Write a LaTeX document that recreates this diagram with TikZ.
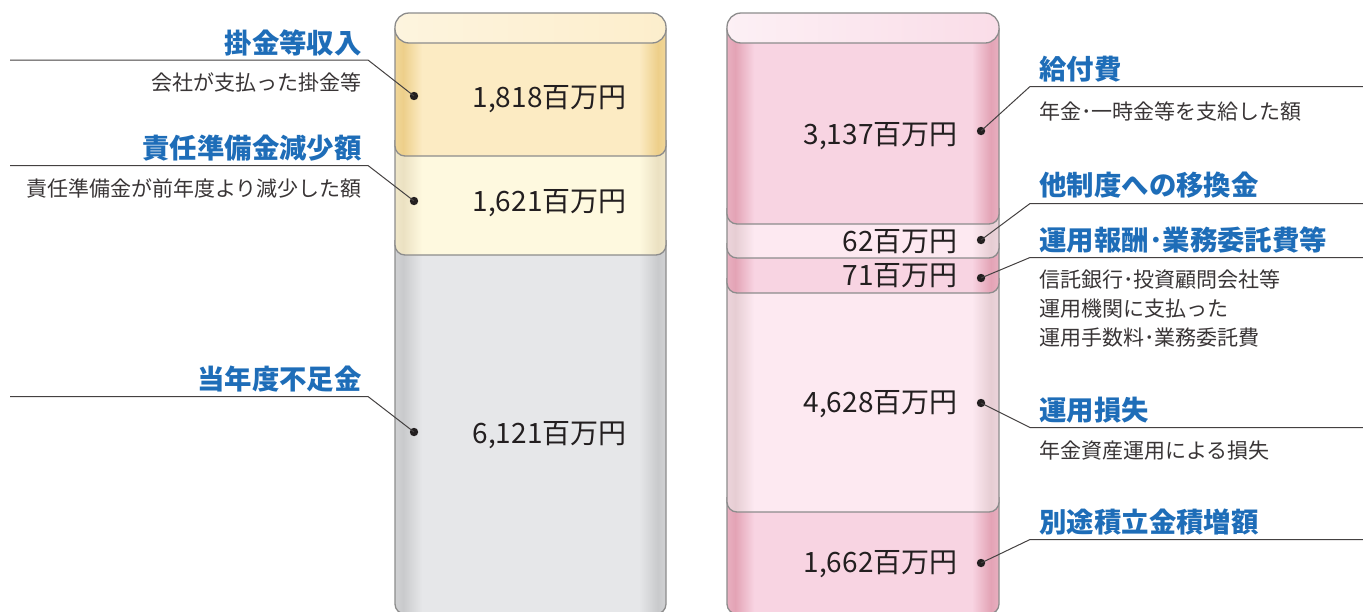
\documentclass[tikz,border=0pt]{standalone}
\usepackage{fontspec}
\setmainfont{Noto Sans CJK JP}

\definecolor{ink}{HTML}{231F20}
\definecolor{rimgray}{HTML}{8C8C8C}
\definecolor{labelblue}{HTML}{1E6DB8}
\definecolor{goldmid}{HTML}{FCEBC3}
\definecolor{goldedge}{HTML}{EDCF8A}
\definecolor{creammid}{HTML}{FEF9DF}
\definecolor{creamedge}{HTML}{EBE1C2}
\definecolor{graymid}{HTML}{E6E7E9}
\definecolor{grayedge}{HTML}{C9CACC}
\definecolor{pinkmid}{HTML}{F8D4E2}
\definecolor{pinkedge}{HTML}{E3A3B5}
\definecolor{palemid}{HTML}{FDE9F1}
\definecolor{paleedge}{HTML}{E6CDD3}

% edge bands: the path covers 25bp..75bp
\pgfdeclarehorizontalshading{goldband}{100bp}{color(0bp)=(goldedge); color(25bp)=(goldedge!75!goldmid); color(26.5bp)=(goldedge); color(30bp)=(goldmid); color(70bp)=(goldmid); color(73.5bp)=(goldedge); color(75bp)=(goldedge!75!goldmid); color(100bp)=(goldedge)}
\pgfdeclarehorizontalshading{creamband}{100bp}{color(0bp)=(creamedge); color(25bp)=(creamedge!75!creammid); color(26.5bp)=(creamedge); color(30bp)=(creammid); color(70bp)=(creammid); color(73.5bp)=(creamedge); color(75bp)=(creamedge!75!creammid); color(100bp)=(creamedge)}
\pgfdeclarehorizontalshading{grayband}{100bp}{color(0bp)=(grayedge); color(25bp)=(grayedge!75!graymid); color(26.5bp)=(grayedge); color(30bp)=(graymid); color(70bp)=(graymid); color(73.5bp)=(grayedge); color(75bp)=(grayedge!75!graymid); color(100bp)=(grayedge)}
\pgfdeclarehorizontalshading{pinkband}{100bp}{color(0bp)=(pinkedge); color(25bp)=(pinkedge!75!pinkmid); color(26.5bp)=(pinkedge); color(30bp)=(pinkmid); color(70bp)=(pinkmid); color(73.5bp)=(pinkedge); color(75bp)=(pinkedge!75!pinkmid); color(100bp)=(pinkedge)}
\pgfdeclarehorizontalshading{paleband}{100bp}{color(0bp)=(paleedge); color(25bp)=(paleedge!75!palemid); color(26.5bp)=(paleedge); color(30bp)=(palemid); color(70bp)=(palemid); color(73.5bp)=(paleedge); color(75bp)=(paleedge!75!palemid); color(100bp)=(paleedge)}

\begin{document}
\begin{tikzpicture}[
    x=0.5pt, y=-0.5pt,
    segment/.style={draw=rimgray, line width=0.65pt, rounded corners=5pt, shade, shading=#1},
    lid/.style={draw=rimgray, line width=0.65pt, rounded corners=7pt},
    amount/.style={anchor=east, inner sep=0pt, text=ink, font=\fontsize{14}{14}\selectfont},
    title/.style={inner sep=0pt, text=labelblue, font=\bfseries\fontsize{13.7}{14}\selectfont},
    note/.style={inner sep=0pt, text=ink!90, font=\fontsize{10.5}{14.3}\selectfont, align=left},
    dot/.style={circle, fill=ink, inner sep=0pt, minimum size=4.2pt},
    leader/.style={draw=ink!85, line width=0.5pt}
    ]

    \useasboundingbox (0,0) rectangle (1363,611);

    % left column, drawn bottom up
    \draw[segment=grayband] (395,240) -- (395,614) -- (666,614) -- (666,240);
    \draw[segment=creamband] (395,140) -- (395,255) -- (666,255) -- (666,140);
    \draw[segment=goldband] (395,28) -- (395,156) -- (666,156) -- (666,28);
    \draw[lid, left color=goldmid!55, right color=goldmid!85] (395,13) rectangle (666,43);

    % right column, drawn bottom up
    \draw[segment=pinkband] (727,497) -- (727,614) -- (999,614) -- (999,497);
    \draw[segment=paleband] (727,278) -- (727,512) -- (999,512) -- (999,278);
    \draw[segment=pinkband] (727,243) -- (727,293) -- (999,293) -- (999,243);
    \draw[segment=paleband] (727,208) -- (727,258) -- (999,258) -- (999,208);
    \draw[segment=pinkband] (727,28) -- (727,224) -- (999,224) -- (999,28);
    \draw[lid, left color=pinkmid!35, right color=pinkmid!80] (727,13) rectangle (999,43);

    % amounts
    \node[amount] (kakekin_amt) at (627,99) {1,818百万円};
    \node[amount] (junbi_amt) at (627,203.5) {1,621百万円};
    \node[amount] (fusoku_amt) at (627,435) {6,121百万円};
    \node[amount] (kyufu_amt) at (958,136) {3,137百万円};
    \node[amount] (ikan_amt) at (958,242) {62百万円};
    \node[amount] (hoshu_amt) at (958,276) {71百万円};
    \node[amount] (sonshitsu_amt) at (958,404) {4,628百万円};
    \node[amount] (betto_amt) at (958,564) {1,662百万円};

    % dots
    \node[dot] (kakekin_dot) at (414,96) {};
    \node[dot] (junbi_dot) at (414,201) {};
    \node[dot] (fusoku_dot) at (414,432) {};
    \node[dot] (kyufu_dot) at (981,131) {};
    \node[dot] (ikan_dot) at (981,240) {};
    \node[dot] (hoshu_dot) at (981,278) {};
    \node[dot] (sonshitsu_dot) at (981,403) {};
    \node[dot] (betto_dot) at (981,563) {};

    % left labels
    \node[title, anchor=east] (kakekin_title) at (362,43) {掛金等収入};
    \node[note, anchor=east] (kakekin_note) at (362,82) {会社が支払った掛金等};
    \node[title, anchor=east] (junbi_title) at (362,148) {責任準備金減少額};
    \node[note, anchor=east] (junbi_note) at (362,188) {責任準備金が前年度より減少した額};
    \node[title, anchor=east] (fusoku_title) at (362,379) {当年度不足金};

    % right labels
    \node[title, anchor=west] (kyufu_title) at (1039,69) {給付費};
    \node[note, anchor=west] (kyufu_note) at (1039,111.5) {年金･一時金等を支給した額};
    \node[title, anchor=west] (ikan_title) at (1039,185) {他制度への移換金};
    \node[title, anchor=west] (hoshu_title) at (1039,240) {運用報酬･業務委託費等};
    \node[note, anchor=west] (hoshu_note) at (1039,308.5) {信託銀行･投資顧問会社等\\運用機関に支払った\\運用手数料･業務委託費};
    \node[title, anchor=west] (sonshitsu_title) at (1039,410) {運用損失};
    \node[note, anchor=west] (sonshitsu_note) at (1039,450.5) {年金資産運用による損失};
    \node[title, anchor=west] (betto_title) at (1039,522.5) {別途積立金積増額};

    % leaders
    \coordinate (kakekin_bend) at (368,60);
    \coordinate (kakekin_end) at (10,60);
    \coordinate (junbi_bend) at (368,165.5);
    \coordinate (junbi_end) at (10,165.5);
    \coordinate (fusoku_bend) at (368,396.5);
    \coordinate (fusoku_end) at (10,396.5);
    \coordinate (kyufu_bend) at (1030,86.5);
    \coordinate (kyufu_end) at (1363,86.5);
    \coordinate (ikan_bend) at (1030,203.5);
    \coordinate (ikan_end) at (1363,203.5);
    \coordinate (hoshu_bend) at (1030,257.5);
    \coordinate (hoshu_end) at (1363,257.5);
    \coordinate (sonshitsu_bend) at (1030,427.5);
    \coordinate (sonshitsu_end) at (1363,427.5);
    \coordinate (betto_bend) at (1030,539.5);
    \coordinate (betto_end) at (1363,539.5);

    \draw[leader] (kakekin_dot.center) -- (kakekin_bend) -- (kakekin_end);
    \draw[leader] (junbi_dot.center) -- (junbi_bend) -- (junbi_end);
    \draw[leader] (fusoku_dot.center) -- (fusoku_bend) -- (fusoku_end);
    \draw[leader] (kyufu_dot.center) -- (kyufu_bend) -- (kyufu_end);
    \draw[leader] (ikan_dot.center) -- (ikan_bend) -- (ikan_end);
    \draw[leader] (hoshu_dot.center) -- (hoshu_bend) -- (hoshu_end);
    \draw[leader] (sonshitsu_dot.center) -- (sonshitsu_bend) -- (sonshitsu_end);
    \draw[leader] (betto_dot.center) -- (betto_bend) -- (betto_end);

\end{tikzpicture}
\end{document}
